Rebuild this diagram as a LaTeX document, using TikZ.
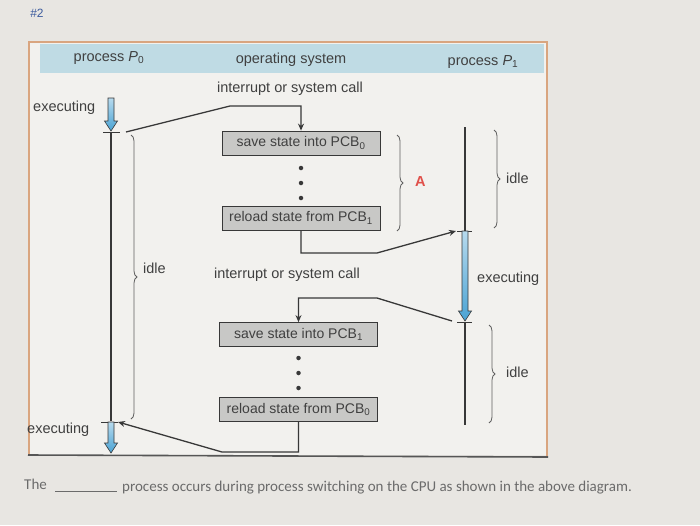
\documentclass[tikz,border=0pt]{standalone}
\usepackage{fontspec}
\setmainfont{Liberation Sans}
\newfontfamily\notefont{Carlito}
\usepackage{tikz}
\usetikzlibrary{arrows.meta,decorations.pathreplacing}
\definecolor{hexcolor0xe8e6e2}{rgb}{0.910,0.902,0.886}
\definecolor{hexcolor0xf2f1ee}{rgb}{0.949,0.945,0.933}
\definecolor{hexcolor0xbfdbe4}{rgb}{0.749,0.859,0.894}
\definecolor{hexcolor0xd9a57f}{rgb}{0.851,0.647,0.498}
\definecolor{hexcolor0xc8c8c6}{rgb}{0.784,0.784,0.776}
\definecolor{hexcolor0x4aa3d4}{rgb}{0.290,0.639,0.831}
\definecolor{hexcolor0xe0504a}{rgb}{0.878,0.314,0.290}
\definecolor{hexcolor0x3d5c9e}{rgb}{0.239,0.361,0.620}
\definecolor{mydark}{rgb}{0.220,0.220,0.220}
\definecolor{mytext}{rgb}{0.250,0.250,0.250}
\definecolor{mynote}{rgb}{0.420,0.420,0.420}
\tikzstyle{txt}=[text=mytext,inner sep=0pt,font=\fontsize{14.5}{16}\selectfont]
\tikzstyle{note}=[text=mynote,inner sep=0pt,font=\notefont\fontsize{15}{17}\selectfont]
\tikzstyle{pcb}=[draw=mydark,fill=hexcolor0xc8c8c6,line width=0.8pt,minimum width=158pt,minimum height=24pt,inner sep=0pt,text=mytext,font=\fontsize{14}{16}\selectfont]
\tikzstyle{conn}=[draw=mydark,line width=1.3pt,-{Stealth[length=7pt,width=6pt]}]
\tikzstyle{busy}=[draw=mydark,line width=2.8pt]
\tikzstyle{notch}=[draw=mydark,line width=0.9pt]
\tikzstyle{idle}=[draw=mydark!80,line width=0.8pt,decorate,decoration={brace,amplitude=6pt}]
\tikzstyle{cpu}=[draw=mydark,line width=0.6pt,top color=white!60!hexcolor0x4aa3d4,bottom color=hexcolor0x4aa3d4]
\tikzstyle{dot}=[circle,fill=mydark,inner sep=0pt,minimum size=4.5pt]
% hollow blue arrow: x, y from, y to
\newcommand{\cpuarrow}[3]{\path[style=cpu] (#1-3,#2) -- (#1+3,#2) -- (#1+3,#3-10) -- (#1+6.5,#3-10) -- (#1,#3) -- (#1-6.5,#3-10) -- (#1-3,#3-10) -- cycle;}

\begin{document}
\begin{tikzpicture}[x=1pt,y=-1pt]
	\useasboundingbox[fill=hexcolor0xe8e6e2] (0,0) rectangle (700,525);
	\node [text=hexcolor0x3d5c9e,inner sep=0pt,font=\fontsize{12}{14}\selectfont] (hash) at (37,13) {\#2};
	% frame
	\fill [hexcolor0xf2f1ee] (29,42) rectangle (547,455);
	\draw [hexcolor0xd9a57f,line width=1.6pt] (29,455) -- (29,42) -- (547,42) -- (547,457);
	\draw [mydark!85,line width=1.6pt] (28,455) -- (548,457);
	\fill [hexcolor0xbfdbe4] (40,44) rectangle (544,73);
	\node [style=txt] (h0) at (109,58) {process \textit{P}\textsubscript{0}};
	\node [style=txt] (h1) at (291,60) {operating system};
	\node [style=txt] (h2) at (483,62) {process \textit{P}\textsubscript{1}};

	\node [style=txt] (t0) at (290,89) {interrupt or system call};
	\node [style=txt] (t1) at (287,275) {interrupt or system call};
	\node [style=txt,anchor=west] (e0) at (33,108) {executing};
	\node [style=txt,anchor=west] (e1) at (27,430) {executing};
	\node [style=txt,anchor=west] (e2) at (477,279) {executing};
	\node [style=txt,anchor=west] (i0) at (143,268) {idle};
	\node [style=txt,anchor=west] (i1) at (506,178) {idle};
	\node [style=txt,anchor=west] (i2) at (506,372) {idle};
	\node [style=txt,anchor=west,text=hexcolor0xe0504a,font=\fontsize{14.5}{16}\selectfont\bfseries] (a) at (415,182) {A};

	% operating system boxes
	\node [style=pcb] (0) at (301,143) {save state into PCB\textsubscript{0}};
	\node [style=pcb] (1) at (301,218) {reload state from PCB\textsubscript{1}};
	\node [style=pcb] (2) at (298.5,334.5) {save state into PCB\textsubscript{1}};
	\node [style=pcb] (3) at (298.5,409.5) {reload state from PCB\textsubscript{0}};
	\foreach \y in {168,183,198} \node [style=dot] at (301,\y) {};
	\foreach \y in {358,373,388} \node [style=dot] at (298.5,\y) {};

	% process P0
	\cpuarrow{111}{98}{131}
	\draw [style=notch] (103,132) -- (120,132);
	\draw [style=busy] (111,132) -- (111,421);
	\draw [style=notch] (101,422) -- (118,422);
	\cpuarrow{111}{422}{453}
	\coordinate (c0) at (126,132);
	\coordinate (c3) at (118,422);

	% process P1
	\draw [style=busy] (465,127) -- (465,231);
	\draw [style=notch] (457,231) -- (472,231);
	\cpuarrow{465}{231}{321}
	\draw [style=notch] (457,322) -- (472,322);
	\draw [style=busy] (465,322) -- (465,425);
	\coordinate (c1) at (456,231);
	\coordinate (c2) at (452,321);

	% switches
	\draw [style=conn] (c0) -- (230,106) -| (0.north);
	\draw [style=conn] (1.south) |- (377,253) -- (c1);
	\draw [style=conn] (c2) -- (377,298) -| (2.north);
	\draw [style=conn] (3.south) |- (222,452) -- (c3);

	% braces
	\draw [style=idle] (131,135) -- (131,419);
	\draw [style=idle] (397,135) -- (397,231);
	\draw [style=idle] (494,130) -- (494,228);
	\draw [style=idle] (489,325) -- (489,423);

	% question
	\node [style=note,anchor=west] (q0) at (24,484) {The};
	\draw [mynote,line width=0.6pt] (55,491) -- (117,491);
	\node [style=note,anchor=west] (q1) at (122,488) {process occurs during process switching on the CPU as shown in the above diagram.};
\end{tikzpicture}
\end{document}
